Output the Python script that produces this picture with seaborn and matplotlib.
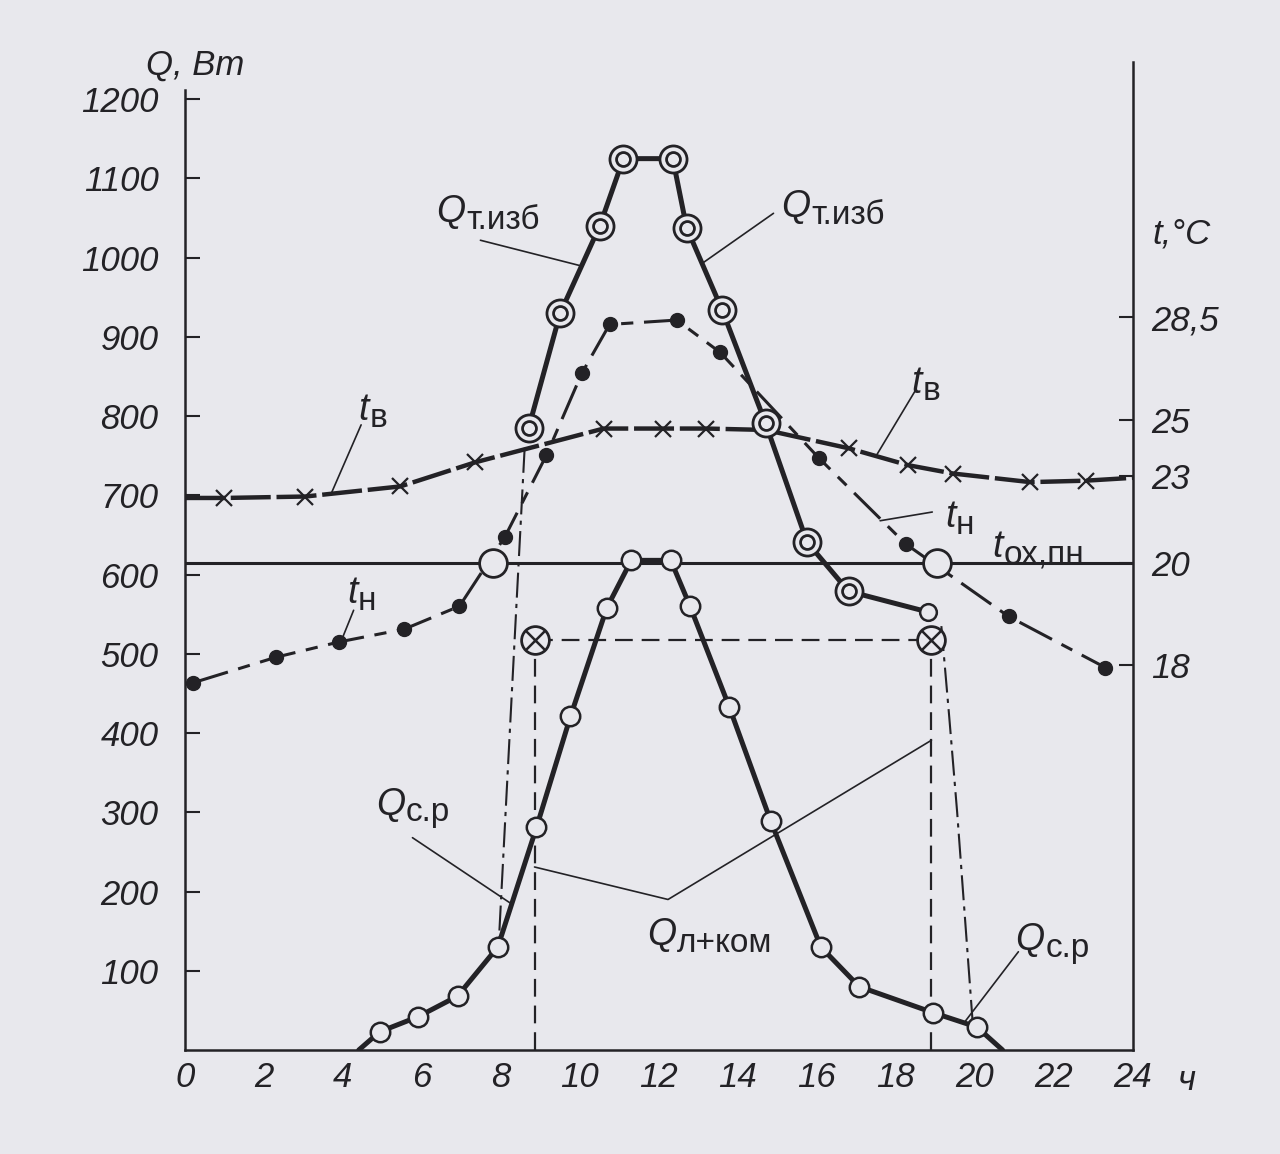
import numpy as np
import matplotlib
matplotlib.use("Agg")
import matplotlib.pyplot as plt
import seaborn as sns

# ---- values: hours of day, W and degrees C ----
qt_hours = [8.7, 9.5, 10.5, 11.1, 12.35, 12.7, 13.6, 14.7, 15.75, 16.8, 18.8]
qt_values = [785, 930, 1040, 1125, 1125, 1038, 934, 791, 641, 579, 553]

qsr_hours = [4.4, 4.93, 5.9, 6.9, 7.92, 8.9, 9.76, 10.68, 11.3, 12.3, 12.78,
             13.78, 14.83, 16.1, 17.07, 18.95, 20.05, 20.7]
qsr_values = [0, 23, 42, 68, 130, 281, 421, 558, 618, 618, 561,
              433, 289, 130, 80, 47, 29, 0]

tv_hours = [0, 1.0, 3.05, 5.45, 7.35, 10.6, 12.1, 13.2, 14.7, 16.8, 18.3, 19.45, 21.4, 22.8, 24]
tv_temps = [22.25, 22.25, 22.3, 22.65, 23.5, 24.7, 24.7, 24.7, 24.65, 24.0, 23.4, 23.1, 22.8, 22.85, 22.95]
tv_marked = [1, 2, 3, 4, 5, 6, 7, 9, 10, 11, 12, 13]

tn_hours = [0.2, 2.3, 3.9, 5.55, 6.95, 8.1, 9.15, 10.05, 10.75, 12.45, 13.55, 16.05, 18.25, 20.85, 23.3]
tn_temps = [17.65, 18.15, 18.45, 18.7, 19.15, 20.9, 23.75, 26.6, 28.25, 28.4, 27.3, 23.65, 20.65, 18.95, 17.95]

# t_ох,пн and the points where t_н crosses it
T_OX = 20
ox_hours = [7.8, 19.05]

# Q_л+ком block (dashed rectangle)
lk_hours = [8.85, 18.9]
lk_value = 518

# dash-dot connectors
ddl_hours = [8.6, 7.95]
ddl_values = [760, 140]
ddr_hours = [19.15, 19.35, 19.55, 19.75, 19.95]
ddr_values = [535, 420, 300, 165, 30]

# right temperature scale (non-linear in the original) and where its ticks sit on Q scale
T_TICKS = [18, 20, 23, 25, 28.5]
T_POS = [486, 615, 724, 795, 925]
T_LABELS = ["18", "20", "23", "25", "28,5"]

Q_TICKS = list(range(100, 1300, 100))
H_TICKS = list(range(0, 25, 2))

INK = "#232226"
BG = "#e8e8ed"


def t_to_q(t):
    """Map temperatures onto the Q axis using the right-hand scale"""
    t = np.atleast_1d(np.asarray(t, dtype=float))
    q = np.interp(t, T_TICKS, T_POS)
    slope = (T_POS[1] - T_POS[0]) / (T_TICKS[1] - T_TICKS[0])
    low = t < T_TICKS[0]
    q[low] = T_POS[0] + (t[low] - T_TICKS[0]) * slope
    return q


sns.set_theme(style="white")
plt.rcParams.update({
    "font.family": ["Liberation Sans", "DejaVu Sans"],
    "font.style": "italic",
    "text.color": INK,
    "xtick.color": INK,
    "ytick.color": INK,
})

fig = plt.figure(figsize=(12.8, 11.54), dpi=100)
fig.patch.set_facecolor(BG)
ax = fig.add_axes([0.1445, 0.0901, 0.7406, 0.8562])
ax.set_facecolor(BG)
ax.set_xlim(0, 24)
ax.set_ylim(0, 1247)

# t_ох,пн horizontal line
ax.axhline(t_to_q(T_OX)[0], color=INK, lw=2.2, zorder=2)

# Q_л+ком dashed block
ax.plot(lk_hours, [lk_value, lk_value], color=INK, lw=1.6, ls=(0, (8, 4)), zorder=2)
for h in lk_hours:
    ax.plot([h, h], [0, lk_value], color=INK, lw=1.6, ls=(0, (8, 4)), zorder=2)

# dash-dot connectors
ax.plot(ddl_hours, ddl_values, color=INK, lw=1.5, ls=(0, (12, 3, 2, 3)), zorder=2)
ax.plot(ddr_hours, ddr_values, color=INK, lw=1.5, ls=(0, (12, 3, 2, 3)), zorder=2)

# t_в - thick dashed with crosses
tv_q = t_to_q(tv_temps)
sns.lineplot(x=tv_hours, y=tv_q, ax=ax, color=INK, lw=3.2, ls=(0, (9, 1.3)),
             sort=False, estimator=None, zorder=3)
ax.plot(np.array(tv_hours)[tv_marked], tv_q[tv_marked], ls="none", marker="x",
        ms=12, mew=1.6, color=INK, zorder=5)

# t_н - dash-dot with filled dots
tn_q = t_to_q(tn_temps)
sns.lineplot(x=tn_hours, y=tn_q, ax=ax, color=INK, lw=2.2, ls=(0, (12, 3.5, 4, 3.5)),
             sort=False, estimator=None, zorder=3)
ax.plot(tn_hours, tn_q, ls="none", marker="o", ms=10, color=INK, zorder=5)

# crossings of t_н with t_ох,пн
ax.plot(ox_hours, t_to_q([T_OX] * len(ox_hours)), ls="none", marker="o", ms=20,
        mfc=BG, mec=INK, mew=2, zorder=6)

# Q_т.изб - thick line with double circles
sns.lineplot(x=qt_hours, y=qt_values, ax=ax, color=INK, lw=3.6,
             sort=False, estimator=None, zorder=4)
ax.plot(qt_hours[:-1], qt_values[:-1], ls="none", marker="o", ms=19.5,
        mfc=BG, mec=INK, mew=2, zorder=6)
ax.plot(qt_hours[:-1], qt_values[:-1], ls="none", marker="o", ms=10,
        mfc=BG, mec=INK, mew=2, zorder=7)
ax.plot(qt_hours[-1:], qt_values[-1:], ls="none", marker="o", ms=12,
        mfc=BG, mec=INK, mew=1.8, zorder=7)

# Q_с.р - thick line with open circles
sns.lineplot(x=qsr_hours, y=qsr_values, ax=ax, color=INK, lw=3.6,
             sort=False, estimator=None, zorder=4)
ax.plot(qsr_hours[1:-1], qsr_values[1:-1], ls="none", marker="o", ms=14,
        mfc=BG, mec=INK, mew=1.8, zorder=6)

# crossed circles on Q_л+ком
ax.plot(lk_hours, [lk_value] * 2, ls="none", marker="o", ms=20,
        mfc=BG, mec=INK, mew=2, zorder=6)
ax.plot(lk_hours, [lk_value] * 2, ls="none", marker="x", ms=14,
        mec=INK, mew=1.8, zorder=7)

# curve labels with leader lines
labels = [
    (6.36, 1045, "Q", "т.изб"),
    (15.1, 1051, "Q", "т.изб"),
    (4.39, 795, "t", "в"),
    (18.4, 829, "t", "в"),
    (4.1, 564, "t", "н"),
    (19.24, 660, "t", "н"),
    (20.45, 622, "t", "ох,пн"),
    (4.83, 297, "Q", "с.р"),
    (11.7, 132, "Q", "л+ком"),
    (21.03, 126, "Q", "с.р"),
]
for x, y, main, sub in labels:
    txt = ax.text(x, y, main, fontsize=27, va="baseline", ha="left", zorder=8)
    ax.annotate(sub, xy=(1, 0), xycoords=txt, xytext=(0.5, -4), textcoords="offset points",
                fontsize=24, fontstyle="normal", va="bottom", ha="left", zorder=8)

leaders = [
    [(7.48, 1022), (10.0, 990)],
    [(14.9, 1056), (13.1, 993)],
    [(4.46, 789), (3.7, 702)],
    [(18.5, 833), (17.5, 750)],
    [(4.27, 555), (3.97, 518)],
    [(18.92, 679), (17.6, 668)],
    [(5.76, 268), (8.25, 185)],
    [(8.85, 231), (12.23, 190), (18.9, 391)],
    [(21.1, 124), (19.75, 36)],
]
for pts in leaders:
    xs, ys = zip(*pts)
    ax.plot(xs, ys, color=INK, lw=1.2, zorder=3)

# axes styling
for side in ["top", "right"]:
    ax.spines[side].set_visible(False)
for side in ["left", "bottom"]:
    ax.spines[side].set_color(INK)
    ax.spines[side].set_linewidth(1.8)
ax.spines["left"].set_bounds(0, 1212)

ax.set_xticks(H_TICKS)
ax.set_xticklabels([str(h) for h in H_TICKS])
ax.set_yticks(Q_TICKS)
ax.set_yticklabels([str(q) for q in Q_TICKS])
ax.tick_params(axis="x", direction="in", length=9, width=1.5, pad=8, labelsize=25)
ax.tick_params(axis="y", direction="in", length=11, width=1.5, pad=19, labelsize=25)
ax.xaxis.get_major_ticks()[0].tick1line.set_visible(False)
ax.xaxis.get_major_ticks()[-1].tick1line.set_visible(False)
ax.grid(False)

ax2 = ax.twinx()
ax2.set_ylim(ax.get_ylim())
ax2.set_yticks(t_to_q(T_TICKS))
ax2.set_yticklabels(T_LABELS)
ax2.tick_params(axis="y", direction="in", length=10, width=1.5, pad=13, labelsize=25)
for side in ["top", "left", "bottom"]:
    ax2.spines[side].set_visible(False)
ax2.spines["right"].set_color(INK)
ax2.spines["right"].set_linewidth(1.8)
ax2.grid(False)

# axis titles
fig.text(146 / 1280, 1 - 75 / 1154, "Q, Вт", fontsize=25, va="baseline", ha="left")
fig.text(1152 / 1280, 1 - 244 / 1154, "t,°C", fontsize=25, va="baseline", ha="left")
fig.text(1178 / 1280, 1 - 1090 / 1154, "ч", fontsize=25, va="baseline", ha="left")

fig.savefig("out.png", dpi=100, facecolor=BG)
